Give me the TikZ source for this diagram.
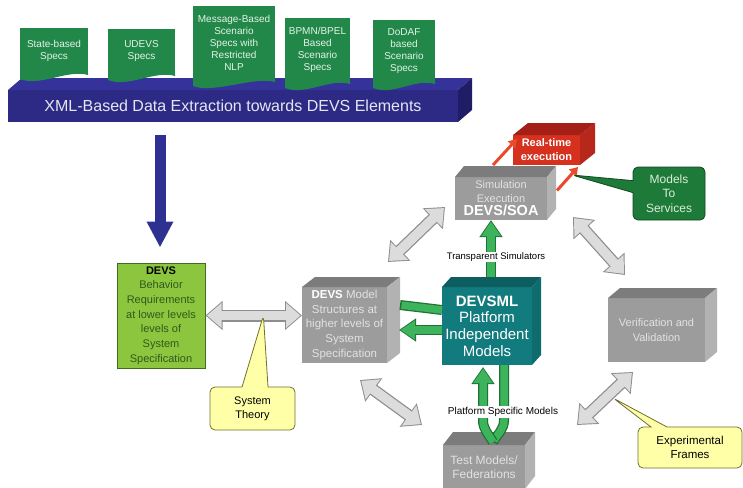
\documentclass[tikz,border=0pt]{standalone}
\usepackage{fontspec}
\setmainfont{Liberation Sans}
\usetikzlibrary{arrows.meta,calc,shapes.callouts}

\definecolor{bannerfront}{HTML}{2C2A84}
\definecolor{bannertop}{HTML}{35339A}
\definecolor{bannerside}{HTML}{1F1D66}
\definecolor{bannertext}{HTML}{E6E6F2}
\definecolor{specgreen}{HTML}{22884A}
\definecolor{spectext}{HTML}{E4F2E6}
\definecolor{navyarrow}{HTML}{2E3192}
\definecolor{reqgreen}{HTML}{8CC63F}
\definecolor{reqline}{HTML}{3E6B22}
\definecolor{reqtext}{HTML}{2F5A1B}
\definecolor{grayfront}{HTML}{9C9C9C}
\definecolor{graytop}{HTML}{7C7C7C}
\definecolor{grayside}{HTML}{B2B2B2}
\definecolor{graytext}{HTML}{E2E2E2}
\definecolor{tealfront}{HTML}{127B7D}
\definecolor{tealtop}{HTML}{0C5E61}
\definecolor{tealside}{HTML}{0E6C6F}
\definecolor{redfront}{HTML}{D6311F}
\definecolor{redtop}{HTML}{A41F15}
\definecolor{redside}{HTML}{B6281B}
\definecolor{redarrow}{HTML}{EA4A2C}
\definecolor{greenfill}{HTML}{3DB45B}
\definecolor{greenline}{HTML}{1D7335}
\definecolor{arrowgray}{HTML}{DCDCDC}
\definecolor{arrowgrayline}{HTML}{8E8E8E}
\definecolor{calloutyellow}{HTML}{FFFFA8}
\definecolor{calloutline}{HTML}{707030}
\definecolor{servgreen}{HTML}{1E7A38}
\definecolor{servline}{HTML}{0F4A20}
\definecolor{servtext}{HTML}{DCEFDC}

\begin{document}
\begin{tikzpicture}[x=1pt, y=-1pt]
		\tikzstyle{spec_doc} = [fill=specgreen, text=spectext, align=center, font=\fontsize{10}{12}\selectfont, inner sep=1pt, outer sep=0pt]
		\tikzstyle{box_face} = [align=center, inner sep=1pt, outer sep=0pt]
		\tikzstyle{gray_box} = [box_face, fill=grayfront, text=graytext, font=\fontsize{11}{14.7}\selectfont]
		\tikzstyle{gray_out} = [line width=12pt, draw=arrowgrayline, {Triangle[length=17pt,width=28pt]}-{Triangle[length=17pt,width=28pt]}]
		\tikzstyle{gray_in} = [line width=9.5pt, draw=arrowgray, {Triangle[length=14.5pt,width=24pt]}-{Triangle[length=14.5pt,width=24pt]}, shorten <=1.5pt, shorten >=1.5pt]
		\tikzstyle{green_out} = [line width=10pt, draw=greenline, -{Triangle[length=17pt,width=22pt]}]
		\tikzstyle{green_in} = [line width=7.5pt, draw=greenfill, -{Triangle[length=14.5pt,width=18.5pt]}, shorten >=1.5pt]
		\tikzstyle{red_arrow} = [line width=3pt, draw=redarrow, -{Triangle[length=8pt,width=10pt]}]
		\tikzstyle{callout_yellow} = [rectangle callout, rounded corners=5pt, draw=calloutline, line width=0.8pt, fill=calloutyellow, align=center, font=\fontsize{11}{14}\selectfont]
		\tikzstyle{plain_label} = [fill=white, inner sep=1pt]

		\useasboundingbox (0,0) rectangle (743,487);

		% Extraction banner
		\node[box_face, fill=bannerfront, text=bannertext, minimum width=450, minimum height=32, font=\fontsize{16}{19}\selectfont] (banner) at (233,106) {XML-Based Data Extraction towards DEVS Elements};
		\fill[bannertop] (banner.north west) -- ++(14,-12) -- ($(banner.north east)+(14,-12)$) -- (banner.north east) -- cycle;
		\fill[bannerside] (banner.north east) -- ++(14,-12) -- ($(banner.south east)+(14,-12)$) -- (banner.south east) -- cycle;

		% Specification documents
		\node[spec_doc, minimum width=68, minimum height=45] (sState) at (54,50.5) {State-based\\Specs};
		\node[spec_doc, minimum width=67, minimum height=45] (sUdevs) at (141.5,51.5) {UDEVS\\Specs};
		\node[spec_doc, minimum width=82, minimum height=74] (sMsg) at (234,43) {Message-Based\\Scenario\\Specs with\\Restricted\\NLP};
		\node[spec_doc, minimum width=65, minimum height=64] (sBpmn) at (317.5,50) {BPMN/BPEL\\Based\\Scenario\\Specs};
		\node[spec_doc, minimum width=62, minimum height=62] (sDodaf) at (404,51) {DoDAF\\based\\Scenario\\Specs};
		\foreach \s in {sState,sUdevs,sMsg,sBpmn,sDodaf}
		\fill[specgreen] (\s.south west) -- ++(0,6) .. controls +(20,8) and +(-20,-6) .. ($(\s.south east)+(0,2)$) -- (\s.south east) -- cycle;

		% Blocks
		\node[fill=reqgreen, draw=reqline, line width=1pt, minimum width=88, minimum height=105, align=center, text=reqtext, inner sep=1pt, font=\fontsize{11}{14.7}\selectfont] (devsreq) at (161,315.5) {\textbf{\color{black}DEVS}\\Behavior\\Requirements\\at lower levels\\levels of\\System\\Specification};
		\node[box_face, fill=redfront, text=white, minimum width=67, minimum height=30, font=\bfseries\fontsize{11}{14}\selectfont] (real) at (546.5,150) {Real-time\\execution};
		\node[gray_box, minimum width=92, minimum height=43, font=\fontsize{11}{13.5}\selectfont] (sim) at (501,198.5) {Simulation\\Execution\\{\fontsize{14.5}{13.5}\selectfont\bfseries\color{white}DEVS/SOA}};
		\node[gray_box, minimum width=85, minimum height=76, font=\fontsize{11.5}{14.7}\selectfont] (model) at (344.5,325) {\textbf{\color{white}DEVS} Model\\Structures at\\higher levels of\\System\\Specification};
		\node[box_face, fill=tealfront, text=white, minimum width=90, minimum height=78, font=\fontsize{15}{16.7}\selectfont] (devsml) at (487,326) {\textbf{DEVSML}\\Platform\\Independent\\Models};
		\node[gray_box, minimum width=97, minimum height=64, font=\fontsize{11}{15}\selectfont] (verif) at (656.5,330) {Verification and\\Validation};
		\node[gray_box, minimum width=82, minimum height=44, font=\fontsize{12}{14}\selectfont] (test) at (484,467) {Test Models/\\Federations};

		% Top and side faces
		\foreach \b/\dx/\dy/\ct/\cs in {real/15/12/redtop/redside, sim/9/11/graytop/grayside, model/13/10/graytop/grayside, devsml/9/10/tealtop/tealside, verif/12/10/graytop/grayside, test/10/13/graytop/grayside} {
			\fill[\ct] (\b.north west) -- ++(\dx,-\dy) -- ($(\b.north east)+(\dx,-\dy)$) -- (\b.north east) -- cycle;
			\fill[\cs] (\b.north east) -- ++(\dx,-\dy) -- ($(\b.south east)+(\dx,-\dy)$) -- (\b.south east) -- cycle;
		}

		% Extraction arrow
		\draw[line width=11pt, draw=navyarrow, -{Triangle[length=26pt,width=25pt]}] ($(banner.south -| devsreq.north)+(-1,13)$) -- ($(devsreq.north)+(-1,-15)$);

		% Gray double arrows
		\coordinate (g1s) at ($(model.north east)+(1,-25)$);
		\coordinate (g1e) at ($(sim.south west)+(-10,-13)$);
		\coordinate (g2s) at ($(sim.south east)+(26,-3)$);
		\coordinate (g2e) at ($(verif.north west)+(17,-23)$);
		\coordinate (g3s) at ($(model.south)+(15.5,17)$);
		\coordinate (g3e) at ($(test.north west)+(-21,-20)$);
		\coordinate (g4s) at ($(test.north east)+(52,-20)$);
		\coordinate (g4e) at ($(verif.south west)+(25,10)$);
		\coordinate (g5s) at (devsreq.east);
		\coordinate (g5e) at (devsreq.east -| model.west);
		\foreach \a/\b in {g1s/g1e, g2s/g2e, g3s/g3e, g4s/g4e, g5s/g5e} {
			\draw[gray_out] (\a) -- (\b);
			\draw[gray_in] (\a) -- (\b);
		}

		% Green arrows round DEVSML
		\draw[green_out] ($(devsml.north)+(4,-10)$) -- ($(sim.south)+(-10,0)$);
		\draw[green_in] ($(devsml.north)+(4,-10)$) -- ($(sim.south)+(-10,0)$);
		\draw[green_out, -] ($(devsml.west)+(0,-16)$) -- ($(model.east)+(13,-20)$);
		\draw[green_in, -] ($(devsml.west)+(0,-16)$) -- ($(model.east)+(13,-20)$);
		\draw[green_out] ($(devsml.west)+(0,4)$) -- ($(model.east)+(12,5)$);
		\draw[green_in] ($(devsml.west)+(0,4)$) -- ($(model.east)+(12,5)$);
		\draw[green_out, -] ($(devsml.south)+(17,0)$) -- ++(0,55) to[out=-90,in=60] ($(test.north)+(9,-3)$);
		\draw[green_in, -] ($(devsml.south)+(17,0)$) -- ++(0,55) to[out=-90,in=60] ($(test.north)+(9,-3)$);
		\draw[green_out] ($(test.north)+(9,-3)$) to[out=120,in=-90] ($(devsml.south)+(-4,55)$) -- ($(devsml.south)+(-4,2)$);
		\draw[green_in] ($(test.north)+(9,-3)$) to[out=120,in=-90] ($(devsml.south)+(-4,55)$) -- ($(devsml.south)+(-4,2)$);

		% Real-time links
		\draw[red_arrow] ($(sim.north)+(-8,-12)$) -- ($(real.west)+(4,-11)$);
		\draw[red_arrow] ($(sim.east)+(10,-8)$) -- ($(real.south east)+(-2,2)$);

		% Labels
		\node[plain_label, font=\fontsize{9.5}{11}\selectfont] (transLbl) at (496,257) {Transparent Simulators};
		\node[plain_label, font=\fontsize{10}{11}\selectfont] (platLbl) at (503,412) {Platform Specific Models};

		% Callouts
		\coordinate (theoryTip) at ($(g5s)!0.6!(g5e)$);
		\coordinate (servTip) at ($(sim.north east)+(25,-2)$);
		\coordinate (framesTip) at ($(verif.south west)+(5,36)$);
		\node[callout_yellow, minimum width=85, minimum height=43, callout absolute pointer={(theoryTip)}, callout pointer width=26pt] (theory) at (252.5,408.5) {System\\Theory};
		\node[callout_yellow, minimum width=104, minimum height=41, callout absolute pointer={(framesTip)}, callout pointer width=16pt, font=\fontsize{11.5}{14}\selectfont] (frames) at (690,447.5) {Experimental\\Frames};
		\node[rectangle callout, rounded corners=5pt, fill=servgreen, draw=servline, line width=0.8pt, text=servtext, align=center, minimum width=72, minimum height=53, callout absolute pointer={(servTip)}, callout pointer width=12pt, font=\fontsize{12}{14.5}\selectfont] (services) at (669,193.5) {Models\\To\\Services};
	\end{tikzpicture}
\end{document}
